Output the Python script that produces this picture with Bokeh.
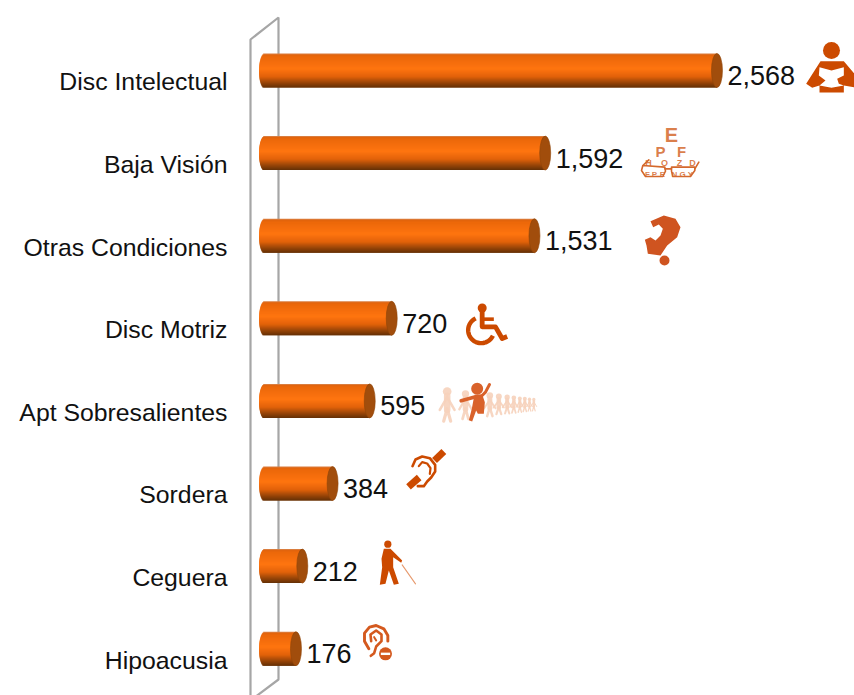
import numpy as np
from bokeh.core.properties import value
from bokeh.embed import file_html
from bokeh.models import ColumnDataSource, FixedTicker, Range1d
from bokeh.plotting import figure
from bokeh.resources import INLINE

categories = ["Disc Intelectual", "Baja Visión", "Otras Condiciones", "Disc Motriz",
              "Apt Sobresalientes", "Sordera", "Ceguera", "Hipoacusia"]
counts = [2568, 1592, 1531, 720, 595, 384, 212, 176]

# chart geometry, in picture pixels
PX_ZERO, PX_PER_UNIT = 270.0, 0.176
ROW_TOP, ROW_STEP = 81.3, 82.6
BAR_LIFT, BAR_H, CAP_RX, BAR_LEFT = 11.3, 34.0, 5.5, 258.5
LEFT, RIGHT, TOP, BOTTOM = 227, 854, 0, 695


def to_val(px):
    return (px - PX_ZERO) / PX_PER_UNIT


def to_row(py):
    return (py - ROW_TOP) / ROW_STEP


p = figure(width=854, height=695, output_backend="svg", toolbar_location=None,
           x_range=Range1d(to_val(LEFT), to_val(RIGHT)),
           y_range=Range1d(to_row(BOTTOM), to_row(TOP)),
           min_border_left=LEFT, min_border_right=0, min_border_top=0, min_border_bottom=0,
           outline_line_color=None, background_fill_color="white")
p.extra_x_ranges["px"] = Range1d(LEFT, RIGHT)
p.extra_y_ranges["px"] = Range1d(BOTTOM, TOP)
p.xaxis.visible = False
p.grid.visible = False
yax = p.yaxis[0]
yax.ticker = FixedTicker(ticks=list(range(len(categories))))
yax.major_label_overrides = {i: c for i, c in enumerate(categories)}
yax.axis_line_color = None
yax.major_tick_line_color = None
yax.minor_tick_line_color = None
yax.major_tick_in = 0
yax.major_tick_out = 0
yax.major_label_standoff = 0
yax.major_label_text_font = "Liberation Sans"
yax.major_label_text_font_size = "24.8px"
yax.major_label_text_color = "#111111"

PX = dict(x_range_name="px", y_range_name="px")

# the chart's 3-D wall
p.line([250, 250, 278, 278, 254], [700, 39, 17, 679, 697], line_color="#a6a6a6", line_width=2.2, **PX)

# cylinder bars, from short strips that follow the vertical shading
stops_t = [0.0, 0.04, 0.10, 0.45, 0.68, 0.84, 1.0]
stops_rgb = np.array([[214, 140, 90], [226, 100, 14], [236, 104, 10], [255, 117, 16],
                      [226, 98, 10], [160, 72, 8], [100, 48, 6]], float)
tops, bottoms, lefts, rights, cols = [], [], [], [], []
n_strips = int(BAR_H)
for i, v in enumerate(counts):
    for k in range(n_strips):
        f = (k + 0.5) / n_strips
        t = 2 * f - 1
        rgb = [np.interp(f, stops_t, stops_rgb[:, c]) for c in range(3)]
        tops.append(i + (k - BAR_H / 2 - BAR_LIFT) / ROW_STEP)
        bottoms.append(i + (min(k + 2, n_strips) - BAR_H / 2 - BAR_LIFT) / ROW_STEP)
        lefts.append(to_val(BAR_LEFT + CAP_RX * (1 - np.sqrt(1 - t * t))))
        rights.append(v - CAP_RX / PX_PER_UNIT)
        cols.append("#%02x%02x%02x" % tuple(int(c) for c in rgb))
p.quad(top="t", bottom="b", left="l", right="r", fill_color="c", line_color=None,
       source=ColumnDataSource(dict(t=tops, b=bottoms, l=lefts, r=rights, c=cols)))
rows = np.arange(len(counts))
vals = np.array(counts, float)
p.ellipse(x=vals - CAP_RX / PX_PER_UNIT, y=rows - BAR_LIFT / ROW_STEP,
          width=2 * CAP_RX / PX_PER_UNIT, height=BAR_H / ROW_STEP,
          fill_color="#a14d0c", line_color="#8f4408", line_width=0.6)

p.text(x=vals, y=rows - (BAR_LIFT - 5) / ROW_STEP, text=[f"{v:,}" for v in counts],
       x_offset=5, text_align="left", text_baseline="middle", text_color="#111111",
       text_font=value("Liberation Sans"), text_font_size="27px")

# ---- decorative pictograms (local pixel drawings) ----
DARK, MID, PALE = "#cc4a00", "#d4591e", "#f6d2bb"


def zoomed(ox, oy, pts):
    return [ox + x / 3 for x, _ in pts], [oy + y / 3 for _, y in pts]


def poly(ox, oy, pts, color, alpha=1.0):
    xs, ys_ = zoomed(ox, oy, pts)
    p.patch(xs, ys_, fill_color=color, line_color=None, fill_alpha=alpha, **PX)


def stroke(ox, oy, pts, color, w, alpha=1.0, cap="round"):
    xs, ys_ = zoomed(ox, oy, pts)
    p.line(xs, ys_, line_color=color, line_width=w, line_alpha=alpha, line_cap=cap, line_join="round", **PX)


def disc(x, y, r, color, alpha=1.0):
    p.circle(x, y, radius=r, radius_dimension="x", fill_color=color, line_color=None, fill_alpha=alpha, **PX)


def arc_pts(cx, cy, r, a0, a1, n=40):
    a = np.radians(np.linspace(a0, a1, n))
    return list(zip(cx + r * np.cos(a), cy + r * np.sin(a)))


# reader
disc(831, 50, 8.5, DARK)
poly(630, 30, [(570, 92), (640, 92), (680, 140), (680, 172), (640, 165), (640, 186), (567, 186), (567, 165),
               (545, 172), (527, 160)], DARK)
poly(630, 30, [(567, 110), (603, 120), (640, 110), (640, 135), (620, 145), (625, 160), (640, 165), (603, 172),
               (567, 165), (585, 150), (565, 135)], "white")

# eye chart and glasses
chart = "#d4682c"
for txt, x, y, size in [("E", 671, 134, "20px"), ("P", 660, 151, "15px"), ("F", 681, 151, "15px"),
                        ("H", 648, 162, "9px"), ("O", 664, 162, "9px"), ("Z", 679, 162, "9px"), ("D", 692, 162, "9px"),
                        ("F", 647, 174, "8px"), ("P", 654, 174, "8px"), ("E", 662, 174, "8px"), ("N", 674, 174, "8px"),
                        ("G", 682, 174, "8px"), ("Y", 690, 174, "8px")]:
    p.text([x], [y], text=[txt], text_align="center", text_baseline="middle", text_color=chart,
           text_font=value("Liberation Sans"), text_font_style="bold", text_font_size=size, text_alpha=0.85, **PX)
stroke(635, 120, [(40, 118), (22, 135), (18, 150), (30, 168), (82, 168), (90, 152), (88, 140), (22, 135)], chart, 1.6)
stroke(635, 120, [(108, 152), (112, 168), (165, 168), (178, 150), (178, 140), (108, 140), (108, 152)], chart, 1.6)
stroke(635, 120, [(88, 145), (108, 145)], chart, 1.6)
stroke(635, 120, [(178, 145), (190, 125)], chart, 1.6)

# question mark
poly(630, 30, [(60, 572), (100, 555), (135, 565), (150, 590), (140, 620), (110, 645), (90, 675), (52, 670), (48, 645),
               (43, 628), (60, 620), (75, 630), (90, 615), (97, 595), (85, 582), (68, 590)], "#cf5420")
disc(664, 260, 5, "#cf5420")

# wheelchair
disc(481.7, 307.5, 4.5, DARK)
stroke(460, 298, [(65, 38), (65, 85), (105, 85), (125, 120), (140, 114)], DARK, 4.8, cap="butt")
stroke(460, 298, [(65, 62), (100, 62)], DARK, 3.6, cap="butt")
stroke(460, 298, arc_pts(62, 95, 39, 245, 25, 40), DARK, 4.4, cap="butt")


# row of people
def person(x, hy, r, fy, color, alpha):
    disc(430 + x / 3, 375 + hy / 3, r / 3, color, alpha)
    stroke(430, 375, [(x, hy + r), (x, hy + (fy - hy) * 0.62)], color, max(r * 0.5, 1.5), alpha)
    stroke(430, 375, [(x - r * 0.8, fy), (x, hy + (fy - hy) * 0.58), (x + r * 0.8, fy)], color, max(r * 0.25, 1), alpha)
    stroke(430, 375, [(x - r * 1.7, hy + (fy - hy) * 0.62), (x, hy + r * 1.3), (x + r * 1.7, hy + (fy - hy) * 0.62)],
           color, max(r * 0.2, 0.8), alpha)


for x, hy, r, fy in [(310, 72, 5, 106), (297, 71, 5, 107), (283, 70, 6, 108), (268, 69, 6, 110), (250, 67, 7, 112),
                     (230, 65, 8, 114), (205, 63, 9, 116), (178, 60, 10, 122), (105, 55, 11, 130), (50, 48, 13, 137)]:
    person(x, hy, r, fy, PALE, 0.9)
disc(430 + 140 / 3, 375 + 40 / 3, 6, "#d9622b")
poly(430, 375, [(132, 58), (155, 56), (163, 80), (160, 115), (142, 115), (137, 105), (125, 138), (115, 134),
                (124, 100), (128, 78)], "#d9622b")
stroke(430, 375, [(155, 60), (165, 50), (177, 27)], "#d9622b", 3)
stroke(430, 375, [(130, 65), (92, 76)], "#d9622b", 3.6)

# ear with bar
stroke(400, 445, [(102, 45), (130, 18)], DARK, 7, cap="butt")
stroke(400, 445, [(24, 124), (56, 96)], DARK, 7, cap="butt")
stroke(400, 445, [(36, 62), (45, 42), (65, 33), (88, 38), (104, 58), (104, 78), (92, 96), (80, 108), (70, 122), (52, 122)],
       DARK, 2.6)
stroke(400, 445, [(55, 62), (65, 50), (80, 54), (90, 68), (88, 85)], DARK, 2.2)

# blind walker
disc(370 + 52 / 3, 535 + 26 / 3, 3.6, DARK)
poly(370, 535, [(40, 40), (60, 40), (75, 55), (95, 75), (92, 82), (68, 65), (68, 95), (85, 145), (70, 148), (55, 105),
                (45, 145), (28, 148), (35, 95), (33, 70)], DARK)
stroke(370, 535, [(95, 88), (135, 145)], "#e79a6e", 1.1)

# ear with minus sign
stroke(355, 620, [(40, 85), (27, 62), (27, 38), (42, 20), (62, 15), (85, 25), (97, 45), (97, 62)], MID, 2.9)
stroke(355, 620, [(47, 62), (45, 42), (62, 30), (78, 42), (78, 62), (62, 78), (56, 98), (46, 106)], MID, 2.6)
stroke(355, 620, [(62, 60), (56, 50)], MID, 2)
disc(355 + 90 / 3, 620 + 100 / 3, 6.5, MID)
stroke(355, 620, [(76, 100), (104, 100)], "white", 2.4, cap="butt")

open("out.html", "w").write(file_html(p, INLINE))
